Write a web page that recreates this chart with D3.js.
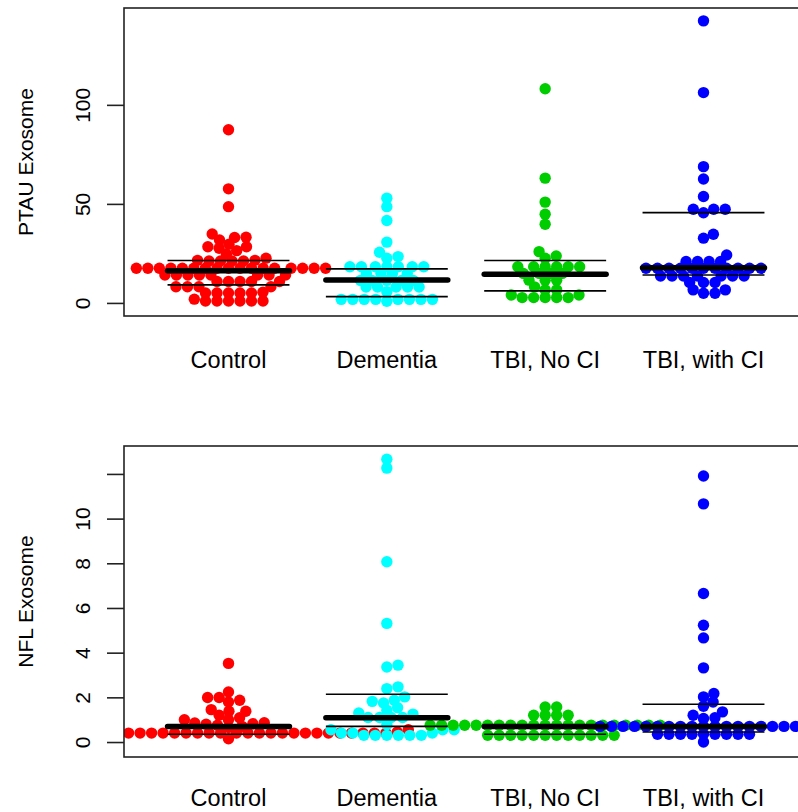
<!DOCTYPE html>
<html>
<head>
<meta charset="utf-8">
<script src="https://cdn.jsdelivr.net/npm/d3@7"></script>
<style>
  body { margin: 0; background: #fff; }
  text { font-family: "Liberation Sans", Arial, sans-serif; fill: #000; }
</style>
</head>
<body>
<div id="chart"></div>
<script>
// groups and colours
var groups = ["Control", "Dementia", "TBI, No CI", "TBI, with CI"];
var colors = ["#ff0000", "#00ffff", "#00cd00", "#0000ff"];

// PTAU exosome values
var ptauControl = [87.4, 57.6, 48.6, 34.8, 33.2, 33.0, 31.8, 29.6, 28.4, 28.4, 27.6, 26.4, 24.6,
  22.6, 21.5, 21.5, 21.2, 21.2, 21.2, 21.2,
  17.5, 17.5, 17.5, 17.5, 17.5, 17.5, 17.5, 17.5, 17.5, 17.5, 17.5, 17.5, 17.5, 17.5, 17.5, 17.5, 17.5,
  14.1, 14.1, 14.1, 14.1, 14.1, 14.1, 14.1, 14.1,
  10.8, 10.8, 10.8, 10.8, 10.8, 8.2, 8.2, 8.2, 8.2, 5.4, 5.0, 5.0, 5.0, 5.0, 5.0, 1.9,
  1.0, 1.0, 1.0, 1.0, 1.0, 1.0];
var ptauDementia = [52.9, 48.6, 41.6, 30.7, 25.6, 23.4, 22.6,
  18.3, 18.3, 18.3, 18.3, 18.3, 18.3, 18.3, 14.8, 14.8, 14.8, 14.8,
  11.4, 11.4, 11.4, 11.4, 11.4, 8.0, 8.0, 8.0, 8.0, 8.0, 5.7,
  1.8, 1.8, 1.8, 1.8, 1.8, 1.8, 1.8, 1.8, 0.8];
var ptauTbiNoCi = [108.1, 63.0, 50.9, 44.8, 39.7, 25.9, 23.7, 22.6,
  18.3, 18.3, 18.3, 18.3, 18.3, 18.3, 14.9, 14.9, 14.9, 14.9,
  11.5, 11.5, 11.5, 8.1, 6.6, 6.6, 4.0, 4.0,
  2.7, 2.7, 2.7, 2.7, 2.7];
var ptauTbiCi = [142.4, 106.2, 68.8, 62.6, 53.7, 47.3, 47.3, 47.3, 45.5, 34.7, 32.7, 24.2,
  20.9, 20.9, 20.9, 20.9,
  17.5, 17.5, 17.5, 17.5, 17.5, 17.5, 17.5, 17.5, 17.5, 17.5, 17.5,
  13.6, 13.6, 13.6, 13.6, 13.6, 13.6, 13.6, 10.3, 10.3, 10.3, 6.6, 6.6, 4.9, 4.9];
var ptauQ1 = [9.1, 3.2, 6.1, 14.1];
var ptauMedian = [16.2, 11.6, 14.5, 17.8];
var ptauQ3 = [21.4, 17.2, 21.4, 45.6];

// NFL exosome values
var nflControl = [3.52, 2.24, 1.99, 1.99, 1.87, 1.79, 1.45, 1.38, 1.38, 1.2, 1.09, 1.0, 1.0, 0.86, 0.82,
  0.85, 0.8, 0.75, 0.7, 0.65, 0.6, 0.55, 0.5, 0.45,
  0.4, 0.4, 0.4, 0.4, 0.4, 0.4, 0.4, 0.4, 0.4, 0.4, 0.4, 0.4, 0.4, 0.4,
  0.4, 0.4, 0.4, 0.4, 0.4, 0.4, 0.4, 0.4, 0.4, 0.4, 0.4, 0.4, 0.4, 0.4, 0.15];
var nflDementia = [12.66, 12.26, 8.07, 5.31, 3.44, 3.36, 2.47, 2.39, 2.02, 1.87, 1.82, 1.75, 1.54, 1.42, 1.3, 1.25,
  1.1, 1.1, 1.1, 1.1, 0.78, 0.55, 0.55, 0.55, 0.4, 0.4, 0.4,
  0.3, 0.3, 0.3, 0.3, 0.3, 0.3];
var nflTbiNoCi = [1.57, 1.57, 1.2, 1.2, 1.2, 1.2,
  0.75, 0.75, 0.75, 0.75, 0.75, 0.75, 0.75, 0.75, 0.75, 0.75, 0.75,
  0.75, 0.75, 0.75, 0.75, 0.75, 0.75, 0.75, 0.75, 0.75, 0.75,
  0.3, 0.3, 0.3, 0.3, 0.3, 0.3, 0.3, 0.3, 0.3, 0.3, 0.3, 0.3];
var nflTbiCi = [11.91, 10.66, 6.65, 5.23, 4.66, 3.32, 2.17, 2.02, 1.79, 1.6, 1.35, 1.2, 1.09, 1.05,
  0.7, 0.7, 0.7, 0.7, 0.7, 0.7, 0.7, 0.7, 0.7, 0.7, 0.7, 0.7, 0.7, 0.7, 0.7, 0.7, 0.7, 0.7, 0.7,
  0.35, 0.35, 0.35, 0.35, 0.35, 0.35, 0.35, 0.35, 0.35, 0.0];
var nflQ1 = [0.35, 0.70, 0.35, 0.45];
var nflMedian = [0.70, 1.09, 0.70, 0.70];
var nflQ3 = [0.72, 2.14, 0.72, 1.69];

var width = 798, height = 812;
var boxLeft = 124, boxRight = 808;
var ptSize = 11.5, ptRadius = 5.7;   // x spacing / radius of the dots
var ySpacing = 7.7;                  // vertical collision size used by the swarm

var svg = d3.select("#chart").append("svg")
    .attr("width", width)
    .attr("height", height);

var xScale = d3.scaleLinear()
    .domain([0.34, 4.66])
    .range([boxLeft, boxRight]);

// swarm layout like R's beeswarm: ascending order, closest free offset to the centre
function swarm(values, yScale) {
  var order = d3.range(values.length).sort(function(a, b) { return values[a] - values[b]; });
  var placed = [], offsets = [];
  order.forEach(function(i) {
    var y = yScale(values[i]);
    var near = placed.filter(function(p) { return Math.abs(p.y - y) < ySpacing; });
    near.sort(function(a, b) { return Math.abs(a.x) - Math.abs(b.x); });
    var cands = [0];
    near.forEach(function(p) {
      var t = (p.y - y) / ySpacing;
      cands.push(p.x + ptSize * Math.sqrt(1 - t * t));
    });
    near.forEach(function(p) {
      var t = (p.y - y) / ySpacing;
      cands.push(p.x - ptSize * Math.sqrt(1 - t * t));
    });
    var best = Infinity;
    cands.forEach(function(c) {
      var bad = near.some(function(p) {
        var a = (c - p.x) / ptSize, b = (y - p.y) / ySpacing;
        return a * a + b * b < 0.999;
      });
      if (!bad && Math.abs(c) < Math.abs(best)) best = c;
    });
    offsets[i] = best;
    placed.push({x: best, y: y});
  });
  return offsets;
}

function drawPanel(cfg) {
  var yScale = d3.scaleLinear()
      .domain(cfg.domain)
      .range([cfg.bottom, cfg.top]);

  var g = svg.append("g");

  g.append("clipPath")
      .attr("id", cfg.id + "-clip")
    .append("rect")
      .attr("x", boxLeft)
      .attr("y", cfg.top)
      .attr("width", boxRight - boxLeft)
      .attr("height", cfg.bottom - cfg.top);

  var dots = g.append("g").attr("clip-path", "url(#" + cfg.id + "-clip)");

  cfg.series.forEach(function(values, gi) {
    var offs = swarm(values, yScale);
    dots.selectAll(".dot-" + gi)
      .data(values)
      .enter().append("circle")
        .attr("class", "dot-" + gi)
        .attr("cx", function(d, i) { return xScale(gi + 1) + offs[i]; })
        .attr("cy", function(d) { return yScale(d); })
        .attr("r", ptRadius)
        .attr("fill", colors[gi]);
  });

  // quartile lines, median thick
  var half = 0.385;
  [cfg.q1, cfg.q3].forEach(function(arr) {
    dots.selectAll(null)
      .data(arr)
      .enter().append("line")
        .attr("x1", function(d, i) { return xScale(i + 1 - half); })
        .attr("x2", function(d, i) { return xScale(i + 1 + half); })
        .attr("y1", function(d) { return yScale(d); })
        .attr("y2", function(d) { return yScale(d); })
        .attr("stroke", "#000")
        .attr("stroke-width", 1.6);
  });
  dots.selectAll(null)
    .data(cfg.median)
    .enter().append("line")
      .attr("x1", function(d, i) { return xScale(i + 1 - half); })
      .attr("x2", function(d, i) { return xScale(i + 1 + half); })
      .attr("y1", function(d) { return yScale(d); })
      .attr("y2", function(d) { return yScale(d); })
      .attr("stroke", "#000")
      .attr("stroke-width", 5.5)
      .attr("stroke-linecap", "round");

  // box
  g.append("rect")
      .attr("x", boxLeft)
      .attr("y", cfg.top)
      .attr("width", boxRight - boxLeft)
      .attr("height", cfg.bottom - cfg.top)
      .attr("fill", "none")
      .attr("stroke", "#222")
      .attr("stroke-width", 1.6);

  // y axis
  var yAxis = g.append("g")
      .attr("transform", "translate(" + boxLeft + ",0)")
      .call(d3.axisLeft(yScale).tickValues(cfg.ticks).tickSize(17).tickPadding(0)
        .tickFormat(function(d, i) { return cfg.tickLabels[i]; }));
  yAxis.select(".domain").remove();
  yAxis.selectAll(".tick line").attr("stroke", "#222").attr("stroke-width", 1.6);
  yAxis.selectAll(".tick text")
      .attr("transform", "rotate(-90)")
      .attr("x", 0)
      .attr("y", -34)
      .attr("dy", 0)
      .style("text-anchor", "middle")
      .style("font-size", "21px")
      .style("font-family", "\"Liberation Sans\", Arial, sans-serif")
      .attr("fill", "#000");

  // y title
  g.append("text")
      .attr("transform", "translate(33," + ((cfg.top + cfg.bottom) / 2) + ") rotate(-90)")
      .style("text-anchor", "middle")
      .style("font-size", "21px")
      .text(cfg.title);

  // category labels
  g.selectAll(null)
    .data(groups)
    .enter().append("text")
      .attr("x", function(d, i) { return xScale(i + 1); })
      .attr("y", cfg.labelY)
      .style("text-anchor", "middle")
      .style("font-size", "23.5px")
      .text(function(d) { return d; });
}

drawPanel({
  id: "ptau",
  top: 8, bottom: 316,
  domain: [-6.6, 148.9],
  ticks: [0, 50, 100],
  tickLabels: ["0", "50", "100"],
  title: "PTAU Exosome",
  series: [ptauControl, ptauDementia, ptauTbiNoCi, ptauTbiCi],
  q1: ptauQ1, median: ptauMedian, q3: ptauQ3,
  labelY: 368
});

drawPanel({
  id: "nfl",
  top: 446, bottom: 757,
  domain: [-0.67, 13.25],
  ticks: [0, 2, 4, 6, 8, 10, 12],
  tickLabels: ["0", "2", "4", "6", "8", "10", ""],
  title: "NFL Exosome",
  series: [nflControl, nflDementia, nflTbiNoCi, nflTbiCi],
  q1: nflQ1, median: nflMedian, q3: nflQ3,
  labelY: 806
});
</script>
</body>
</html>
